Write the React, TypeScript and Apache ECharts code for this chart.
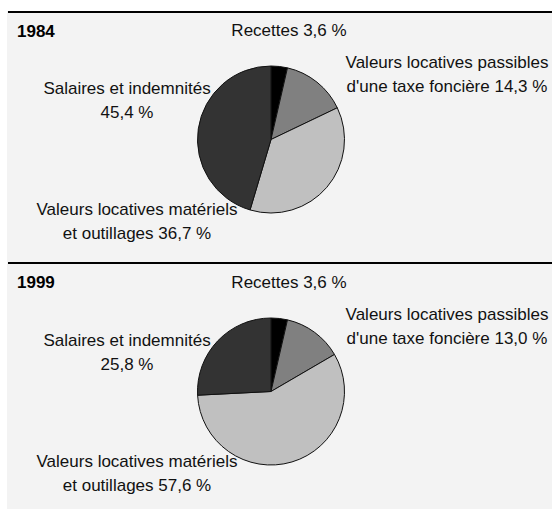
import React, { useEffect, useRef } from "react";
import * as echarts from "echarts";

const categories = [
  "Recettes",
  "Valeurs locatives passibles\nd'une taxe foncière",
  "Valeurs locatives matériels\net outillages",
  "Salaires et indemnités",
];
const years = ["1984", "1999"];
const values1984 = [3.6, 14.3, 36.7, 45.4];
const values1999 = [3.6, 13.0, 57.6, 25.8];
const sliceColors = ["#000000", "#808080", "#c0c0c0", "#333333"];

const fmt = (v: number) => v.toFixed(1).replace(".", ",") + " %";

function labelText(name: string, v: number, idx: number) {
  if (idx === 3) return name + "\n" + fmt(v);
  return name + " " + fmt(v);
}

// label centre offsets relative to the pie centre
const labelOffsets = [
  [18, -109.5],
  [176, -65],
  [-134, 82],
  [-144, -39.5],
];

export default function App() {
  const ref = useRef<HTMLDivElement>(null);
  useEffect(() => {
    if (!ref.current) return;
    const chart = echarts.init(ref.current, null, { renderer: "svg" });
    const centers = [
      [271, 139.5],
      [271, 391.5],
    ];
    const datasets = [values1984, values1999];
    const series = datasets.map((vals, si) => ({
      type: "pie",
      center: centers[si],
      radius: 73.5,
      startAngle: 90,
      clockwise: true,
      silent: true,
      data: vals.map((v, i) => ({
        name: categories[i],
        value: v,
        itemStyle: { color: sliceColors[i] },
      })),
      itemStyle: { borderColor: "#111", borderWidth: 1 },
      label: {
        show: true,
        formatter: (p: any) => labelText(p.name, p.value, p.dataIndex),
        fontFamily: "Liberation Sans, Arial, sans-serif",
        fontSize: 17,
        color: "#111",
        lineHeight: 24,
        align: "center",
        overflow: "none",
      },
      labelLine: { show: false },
      labelLayout: (p: any) => {
        const o = labelOffsets[p.dataIndex];
        return {
          x: centers[si][0] + o[0],
          y: centers[si][1] + o[1],
          align: "center",
          verticalAlign: "middle",
        };
      },
    }));
    chart.setOption({
      animation: false,
      backgroundColor: "#ffffff",
      graphic: [
        { type: "rect", shape: { x: 7, y: 11, width: 545, height: 498 }, style: { fill: "#f3f3f3" }, z: -10 },
        { type: "line", shape: { x1: 8, y1: 12, x2: 552, y2: 12 }, style: { stroke: "#000", lineWidth: 2 } },
        { type: "line", shape: { x1: 8, y1: 263, x2: 552, y2: 263 }, style: { stroke: "#000", lineWidth: 2 } },
        ...years.map((y, i) => ({
          type: "text",
          x: 17,
          y: i === 0 ? 31 : 282,
          style: {
            text: y,
            fontFamily: "Liberation Sans, Arial, sans-serif",
            fontWeight: "bold",
            fontSize: 17,
            fill: "#000",
            verticalAlign: "middle",
          },
        })),
      ],
      series,
    });
    return () => chart.dispose();
  }, []);
  return (
    <div
      ref={ref}
      style={{ position: "fixed", left: 0, top: 0, width: 552, height: 509 }}
    />
  );
}
